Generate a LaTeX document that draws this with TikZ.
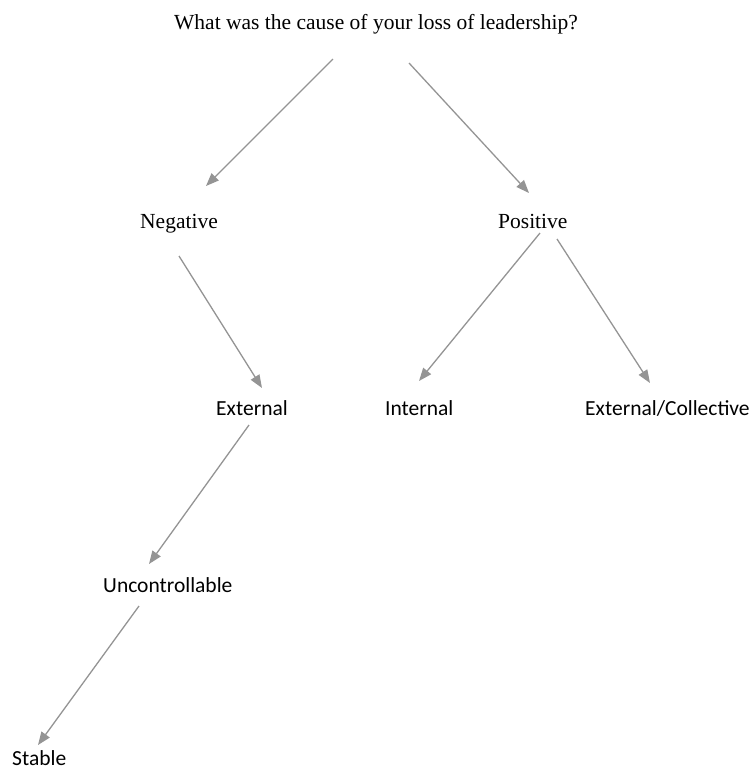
\documentclass[tikz,border=0pt]{standalone}
\usepackage{fontspec}
\setmainfont{Liberation Serif}
\newfontfamily\calib{Carlito}
\usetikzlibrary{arrows.meta}
\tikzset{
  serlabel/.style={anchor=base west, inner sep=0pt, font=\fontsize{21.5}{26}\selectfont},
  cablabel/.style={anchor=base west, inner sep=0pt, font=\calib\fontsize{21.5}{26}\selectfont},
  conn/.style={draw=black!42, line width=1.3pt, -{Triangle[length=13pt,width=10pt]}}
}
\begin{document}
\begin{tikzpicture}[x=1pt,y=-1pt]
\useasboundingbox (0,0) rectangle (750,769);
\node[serlabel] (q) at (174,29) {What was the cause of your loss of leadership?};
\node[serlabel] (neg) at (140,228) {Negative};
\node[serlabel] (pos) at (498,228) {Positive};
\node[cablabel] (ext) at (216,415) {External};
\node[cablabel] (int) at (385,415) {Internal};
\node[cablabel] (extc) at (585,415) {External/Collective};
\node[cablabel] (unc) at (103,592) {Uncontrollable};
\node[cablabel] (stab) at (12,765) {Stable};
% connector end points
\coordinate (q1) at (333,59);
\coordinate (neg1) at (206,186);
\coordinate (q2) at (409,63);
\coordinate (pos1) at (529,193);
\coordinate (neg2) at (179,256);
\coordinate (ext1) at (262,388);
\coordinate (pos2) at (540,233);
\coordinate (int1) at (419,381);
\coordinate (pos3) at (557,239);
\coordinate (extc1) at (650,383);
\coordinate (ext2) at (249,425);
\coordinate (unc1) at (149,564);
\coordinate (unc2) at (139,606);
\coordinate (stab1) at (38,745);
\draw[conn] (q1) -- (neg1);
\draw[conn] (q2) -- (pos1);
\draw[conn] (neg2) -- (ext1);
\draw[conn] (pos2) -- (int1);
\draw[conn] (pos3) -- (extc1);
\draw[conn] (ext2) -- (unc1);
\draw[conn] (unc2) -- (stab1);
\end{tikzpicture}
\end{document}
